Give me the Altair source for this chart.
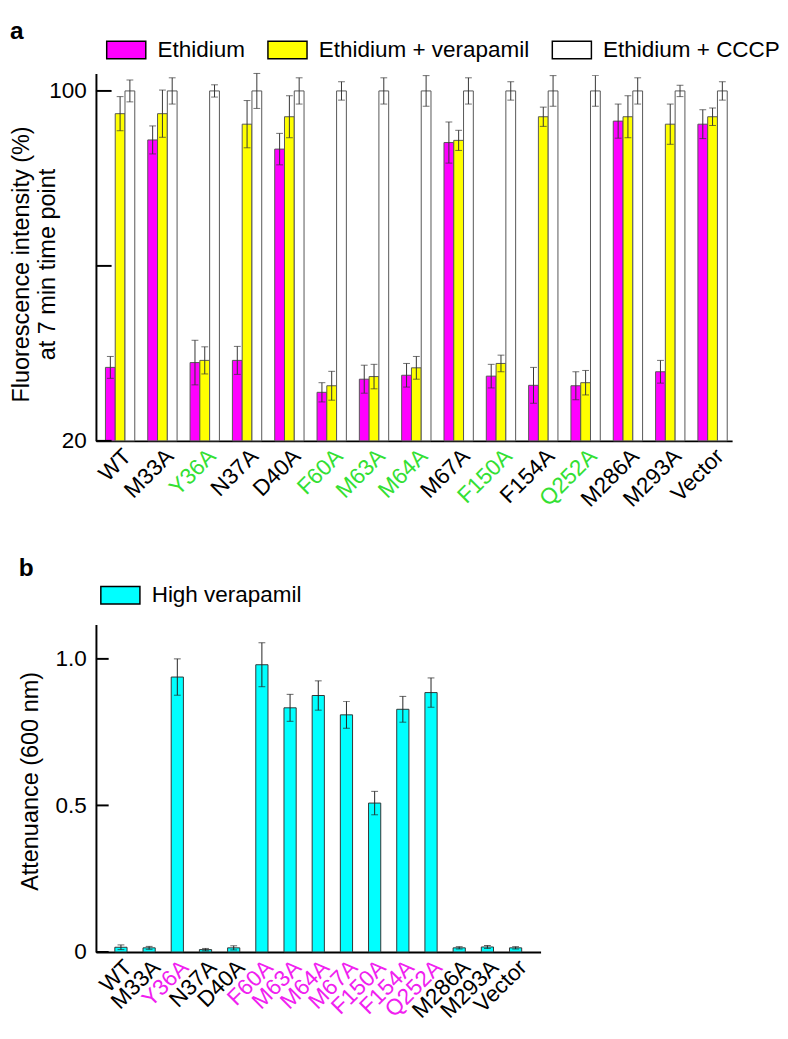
import json
import altair as alt
import pandas as pd

FONT = "Liberation Sans"

mutants = ["WT", "M33A", "Y36A", "N37A", "D40A", "F60A", "M63A", "M64A",
           "M67A", "F150A", "F154A", "Q252A", "M286A", "M293A", "Vector"]
series_names = ["Ethidium", "Ethidium + verapamil", "Ethidium + CCCP"]

eth = [36.8, 88.8, 37.9, 38.4, 86.7, 31.1, 34.1, 35.0, 88.2, 34.8, 32.7, 32.6, 93.1, 35.8, 92.4]
eth_err = [2.5, 3.2, 5.1, 3.2, 3.6, 2.2, 3.2, 2.7, 4.7, 2.7, 4.1, 3.2, 3.9, 2.6, 3.3]
ver = [94.8, 94.8, 38.4, 92.4, 94.1, 32.6, 34.7, 36.7, 88.7, 37.7, 94.1, 33.3, 94.1, 92.4, 94.1]
ver_err = [3.9, 5.4, 3.1, 5.4, 4.8, 3.3, 2.8, 2.6, 2.3, 1.9, 2.2, 2.8, 4.8, 4.6, 2.0]
cccp = [100, 100, 100, 100, 100, 100, 100, 100, 100, 100, 100, 100, 100, 100, 100]
cccp_err = [2.5, 3.0, 1.4, 4.0, 3.0, 2.1, 3.0, 3.5, 3.0, 2.1, 3.5, 3.5, 3.0, 1.3, 2.1]

att = [0.016, 0.014, 0.938, 0.008, 0.014, 0.980, 0.833, 0.875, 0.809, 0.508, 0.828, 0.885, 0.014, 0.017, 0.014]
att_err = [0.008, 0.005, 0.062, 0.004, 0.007, 0.075, 0.046, 0.050, 0.046, 0.040, 0.044, 0.050, 0.004, 0.005, 0.004]

green_labels = ["Y36A", "F60A", "M63A", "M64A", "F150A", "Q252A"]
magenta_labels = ["Y36A", "F60A", "M63A", "M64A", "M67A", "F150A", "F154A", "Q252A"]

a_ticks = [20, 60, 100]
a_tick_labels = [20, 100]
b_ticks = [0, 0.5, 1.0]

GREEN = "#33e033"
MAGENTA_TXT = "#f020f0"
SWATCH = "M-1,-0.45H1V0.45H-1Z"

# ---------- panel a data ----------
rows = []
for name, vals, errs in zip(series_names, [eth, ver, cccp], [eth_err, ver_err, cccp_err]):
    for m, v, e in zip(mutants, vals, errs):
        rows.append({"mutant": m, "series": name, "value": v, "lo": v - e, "hi": v + e})
dfa = pd.DataFrame(rows)

xa = alt.X("mutant:N", sort=mutants,
           scale=alt.Scale(paddingInner=0.307, paddingOuter=0.17, align=0.66),
           axis=alt.Axis(title=None, labelAngle=-45, labelAlign="right", labelBaseline="top",
                         labelFontSize=23, labelFont=FONT, ticks=False,
                         domainColor="black", domainWidth=2, labelPadding=4,
                         labelColor={"condition": {"test": f"indexof({json.dumps(green_labels)}, datum.value) >= 0",
                                                   "value": GREEN}, "value": "black"}))
xoff = alt.XOffset("series:N", sort=series_names, scale=alt.Scale(paddingInner=0, paddingOuter=0))
ya_scale = alt.Scale(domain=[20, 104], zero=False, nice=False, clamp=True)

bars_a = alt.Chart(dfa).mark_bar(stroke="#555555", strokeWidth=1).encode(
    x=xa, xOffset=xoff,
    y=alt.Y("value:Q", scale=ya_scale,
            axis=alt.Axis(values=a_tick_labels, ticks=False, grid=False,
                          title=["Fluorescence intensity (%)", "at 7 min time point"],
                          titleFontSize=24, titleFont=FONT, titleFontWeight="normal",
                          titleX=-64, titleY=195, titleLineHeight=27,
                          labelFontSize=23, labelFont=FONT, labelPadding=10,
                          domainColor="black", domainWidth=2)),
    y2=alt.datum(20),
    color=alt.Color("series:N", sort=series_names,
                    scale=alt.Scale(domain=series_names, range=["#ff00ff", "#ffff00", "#ffffff"]),
                    legend=alt.Legend(title=None, orient="none", legendX=10, legendY=-45,
                                      direction="horizontal",
                                      symbolType=SWATCH, symbolSize=1600,
                                      symbolStrokeColor="black", symbolStrokeWidth=1.5,
                                      labelFontSize=23, labelFont=FONT, labelOffset=11,
                                      labelLimit=500, columnPadding=20)),
)
err_a = alt.Chart(dfa).mark_rule(color="#333333", strokeWidth=1).encode(
    x=xa, xOffset=xoff, y=alt.Y("lo:Q", scale=ya_scale), y2="hi:Q")
caphi_a = alt.Chart(dfa).mark_tick(color="#333333", thickness=1, size=7, orient="horizontal").encode(
    x=xa, xOffset=xoff, y=alt.Y("hi:Q", scale=ya_scale))
caplo_a = alt.Chart(dfa).mark_tick(color="#333333", thickness=1, size=7, orient="horizontal").encode(
    x=xa, xOffset=xoff, y=alt.Y("lo:Q", scale=ya_scale))
inward_a = alt.Chart(pd.DataFrame({"value": a_ticks})).mark_rule(color="black", strokeWidth=2).encode(
    y=alt.Y("value:Q", scale=ya_scale), x=alt.value(0), x2=alt.value(16))

panel_a = alt.layer(bars_a, err_a, caplo_a, caphi_a, inward_a).properties(
    width=651, height=376,
    title=alt.TitleParams("a", anchor="start", fontSize=25, fontWeight="bold", font=FONT, offset=-15))

# ---------- panel b ----------
dfb = pd.DataFrame({"mutant": mutants, "series": ["High verapamil"] * len(mutants),
                    "value": att,
                    "lo": [v - e for v, e in zip(att, att_err)],
                    "hi": [v + e for v, e in zip(att, att_err)]})

xb = alt.X("mutant:N", sort=mutants,
           scale=alt.Scale(paddingInner=0.567, paddingOuter=0.67, align=0.5),
           axis=alt.Axis(title=None, labelAngle=-45, labelAlign="right", labelBaseline="top",
                         labelFontSize=23, labelFont=FONT, ticks=False,
                         domainColor="black", domainWidth=2, labelPadding=4,
                         labelColor={"condition": {"test": f"indexof({json.dumps(magenta_labels)}, datum.value) >= 0",
                                                   "value": MAGENTA_TXT}, "value": "black"}))
yb_scale = alt.Scale(domain=[0, 1.117], nice=False)

bars_b = alt.Chart(dfb).mark_bar(stroke="#333333", strokeWidth=1).encode(
    x=xb,
    y=alt.Y("value:Q", scale=yb_scale,
            axis=alt.Axis(values=b_ticks, ticks=False, grid=False,
                          labelExpr="datum.value == 0 ? '0' : format(datum.value, '.1f')",
                          title="Attenuance (600 nm)",
                          titleFontSize=24, titleFont=FONT, titleFontWeight="normal",
                          titleX=-55, titleY=160,
                          labelFontSize=23, labelFont=FONT, labelPadding=10,
                          domainColor="black", domainWidth=2)),
    color=alt.Color("series:N", scale=alt.Scale(domain=["High verapamil"], range=["#00ffff"]),
                    legend=alt.Legend(title=None, orient="none", legendX=4, legendY=-51,
                                      symbolType=SWATCH, symbolSize=1600,
                                      symbolStrokeColor="black", symbolStrokeWidth=1.5,
                                      labelFontSize=23, labelFont=FONT, labelOffset=11,
                                      labelLimit=500)),
)
err_b = alt.Chart(dfb).mark_rule(color="#222222", strokeWidth=1).encode(
    x=xb, y=alt.Y("lo:Q", scale=yb_scale), y2="hi:Q")
caphi_b = alt.Chart(dfb).mark_tick(color="#222222", thickness=1, size=7, orient="horizontal").encode(
    x=xb, y=alt.Y("hi:Q", scale=yb_scale))
caplo_b = alt.Chart(dfb).mark_tick(color="#222222", thickness=1, size=7, orient="horizontal").encode(
    x=xb, y=alt.Y("lo:Q", scale=yb_scale))
inward_b = alt.Chart(pd.DataFrame({"value": b_ticks})).mark_rule(color="black", strokeWidth=2).encode(
    y=alt.Y("value:Q", scale=yb_scale), x=alt.value(0), x2=alt.value(13))

panel_b = alt.layer(bars_b, err_b, caplo_b, caphi_b, inward_b).properties(
    width=455, height=335,
    title=alt.TitleParams("b", anchor="start", fontSize=25, fontWeight="bold", font=FONT, offset=-6))

chart = alt.vconcat(panel_a, panel_b, spacing=46).resolve_scale(
    color="independent", x="independent", y="independent").resolve_legend(
    color="independent").properties(
    padding={"left": 2, "top": 0, "right": 0, "bottom": 0}).configure(font=FONT).configure_view(stroke=None)

chart.save("out.html", embed_options={"renderer": "svg", "actions": False})
